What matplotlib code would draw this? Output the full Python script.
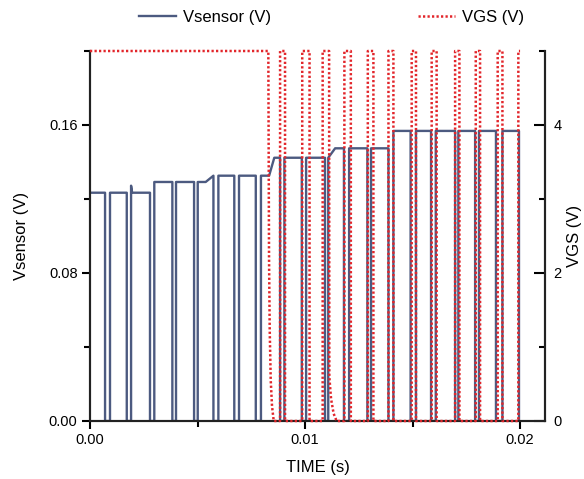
import matplotlib
matplotlib.use("Agg")
import matplotlib.pyplot as plt
from matplotlib.ticker import MultipleLocator, FormatStrFormatter

# ---------------- data ----------------
# Vsensor (V) waveform breakpoints: time (s), value (V)
vs_time = [
    0.0, 0.00070, 0.00070, 0.00093, 0.00093,
    0.00171, 0.00171, 0.00191, 0.00191, 0.00196, 0.00205,
    0.00279, 0.00279, 0.00299, 0.00299,
    0.00383, 0.00383, 0.00400, 0.00400,
    0.00484, 0.00484, 0.00501, 0.00501, 0.00538, 0.00574, 0.00574, 0.00597, 0.00597,
    0.00671, 0.00671, 0.00693, 0.00693,
    0.00771, 0.00771, 0.00795, 0.00795, 0.00833, 0.00857,
    0.00884, 0.00884, 0.00904, 0.00904,
    0.00985, 0.00985, 0.01005, 0.01005,
    0.01093, 0.01093, 0.01108, 0.01108, 0.01140,
    0.01181, 0.01181, 0.01205, 0.01205,
    0.01290, 0.01290, 0.01307, 0.01307,
    0.01388, 0.01388, 0.01411, 0.01411,
    0.01491, 0.01491, 0.01516, 0.01516,
    0.01586, 0.01586, 0.01608, 0.01608,
    0.01698, 0.01698, 0.01713, 0.01713,
    0.01791, 0.01791, 0.01809, 0.01809,
    0.01888, 0.01888, 0.01918, 0.01918,
    0.01995, 0.01995,
]
vs_value = [
    0.1234, 0.1234, 0.0, 0.0, 0.1234,
    0.1234, 0.0, 0.0, 0.1272, 0.1234, 0.1234,
    0.1234, 0.0, 0.0, 0.1292,
    0.1292, 0.0, 0.0, 0.1292,
    0.1292, 0.0, 0.0, 0.1292, 0.1292, 0.1326, 0.0, 0.0, 0.1326,
    0.1326, 0.0, 0.0, 0.1326,
    0.1326, 0.0, 0.0, 0.1326, 0.1326, 0.1423,
    0.1423, 0.0, 0.0, 0.1423,
    0.1423, 0.0, 0.0, 0.1423,
    0.1423, 0.0, 0.0, 0.1423, 0.1474,
    0.1474, 0.0, 0.0, 0.1474,
    0.1474, 0.0, 0.0, 0.1474,
    0.1474, 0.0, 0.0, 0.1568,
    0.1568, 0.0, 0.0, 0.1568,
    0.1568, 0.0, 0.0, 0.1568,
    0.1568, 0.0, 0.0, 0.1568,
    0.1568, 0.0, 0.0, 0.1568,
    0.1568, 0.0, 0.0, 0.1568,
    0.1568, 0.0,
]

# VGS (V) waveform breakpoints: time (s), value (V)
vgs_time = [
    0.0, 0.008293, 0.008326, 0.008358, 0.008405, 0.008465, 0.008544,
    0.00884, 0.00884, 0.00907, 0.00907,
    0.00987, 0.00987, 0.01021, 0.01021,
    0.01082, 0.01082, 0.01112, 0.01113, 0.01121, 0.01133, 0.01147,
    0.01183, 0.01183, 0.01213, 0.01213,
    0.01292, 0.01292, 0.01318, 0.01318,
    0.01388, 0.01388, 0.01411, 0.01411,
    0.01496, 0.01496, 0.01516, 0.01516,
    0.01589, 0.01589, 0.01612, 0.01612,
    0.01698, 0.01698, 0.01718, 0.01718,
    0.01794, 0.01794, 0.01814, 0.01814,
    0.01896, 0.01896, 0.01918, 0.01918,
    0.01992, 0.01992, 0.02000,
]
vgs_value = [
    5.0, 5.0, 2.2, 1.23, 0.55, 0.2, 0.0,
    0.0, 5.0, 5.0, 0.0,
    0.0, 5.0, 5.0, 0.0,
    0.0, 5.0, 5.0, 0.6, 0.3, 0.1, 0.0,
    0.0, 5.0, 5.0, 0.0,
    0.0, 5.0, 5.0, 0.0,
    0.0, 5.0, 5.0, 0.0,
    0.0, 5.0, 5.0, 0.0,
    0.0, 5.0, 5.0, 0.0,
    0.0, 5.0, 5.0, 0.0,
    0.0, 5.0, 5.0, 0.0,
    0.0, 5.0, 5.0, 0.0,
    0.0, 5.0, 5.0,
]

x_ticks = [0.00, 0.01, 0.02]
y1_ticks = [0.00, 0.08, 0.16]
y2_ticks = [0, 2, 4]

# ---------------- plot ----------------
plt.rcParams['font.family'] = ['Liberation Sans', 'DejaVu Sans']

fig = plt.figure(figsize=(5.84, 4.79), dpi=100)
ax = fig.add_axes([90 / 584, 58 / 479, 455 / 584, 370 / 479])
ax2 = ax.twinx()

blue = '#4c5a80'
red = '#e2252a'

l1, = ax.plot(vs_time, vs_value, color=blue, lw=1.7, label='Vsensor (V)', zorder=2)
l2, = ax2.plot(vgs_time, vgs_value, color=red, lw=1.8, ls=(0, (0.9, 0.9)), label='VGS (V)',
               zorder=3, clip_on=False)

ax.set_xlim(0, 0.02116)
ax.set_ylim(0, 0.20)
ax2.set_ylim(0, 5)

ax.set_xticks(x_ticks)
ax.xaxis.set_major_formatter(FormatStrFormatter('%.2f'))
ax.xaxis.set_minor_locator(MultipleLocator(0.005))
ax.set_yticks(y1_ticks)
ax.yaxis.set_major_formatter(FormatStrFormatter('%.2f'))
ax.yaxis.set_minor_locator(MultipleLocator(0.04))
ax2.set_yticks(y2_ticks)
ax2.yaxis.set_minor_locator(MultipleLocator(1))

for a in (ax, ax2):
    a.spines['top'].set_visible(False)
    for s in a.spines.values():
        s.set_linewidth(1.5)
        s.set_color('#222222')

ax.tick_params(axis='both', which='major', direction='out', length=6, width=1.5, labelsize=10.5, pad=3)
ax.tick_params(axis='both', which='minor', direction='out', length=4, width=1.5)
ax2.tick_params(axis='y', which='major', direction='in', length=8, width=1.5, labelsize=10.5, pad=6)
ax2.tick_params(axis='y', which='minor', direction='in', length=4, width=1.5)

ax.set_xlabel('TIME (s)', fontsize=12, labelpad=9)
ax.set_ylabel('Vsensor (V)', fontsize=12, labelpad=14)
ax2.set_ylabel('VGS (V)', fontsize=12, labelpad=4)

fig.legend(handles=[l1, l2], loc='upper center', bbox_to_anchor=(0.568, 1.01), ncol=2,
           frameon=False, fontsize=12, handlelength=2.2, columnspacing=8.8,
           handletextpad=0.45)

fig.savefig('out.png', dpi=100)
